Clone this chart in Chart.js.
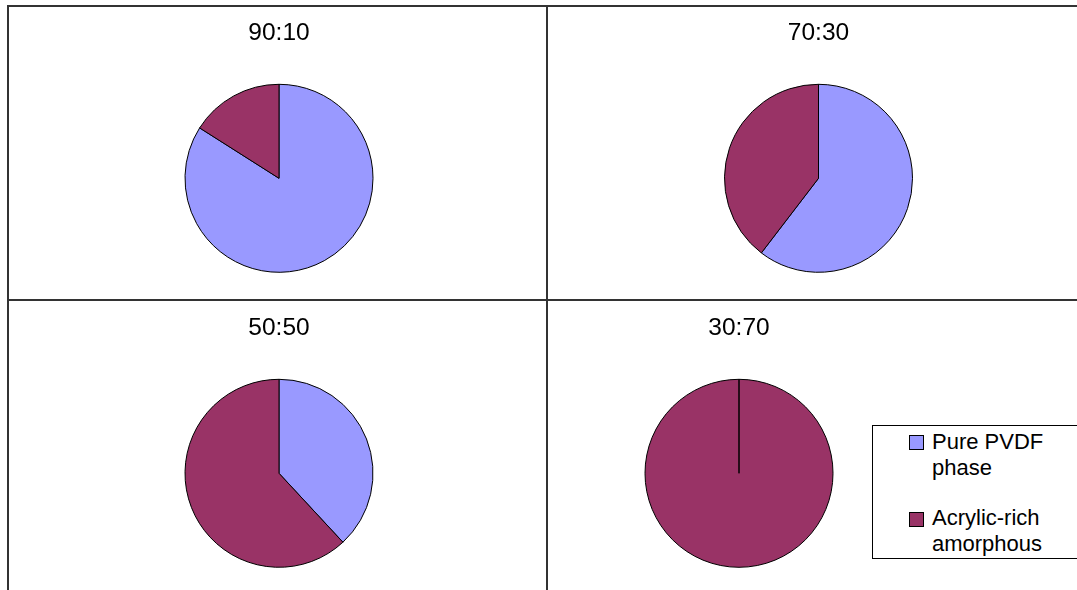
<!DOCTYPE html>
<html>
<head>
<meta charset="utf-8">
<script src="https://cdn.jsdelivr.net/npm/chart.js@4/dist/chart.umd.min.js"></script>
<style>
  html, body { margin: 0; padding: 0; background: #fff; }
  body { width: 1077px; height: 590px; position: relative; overflow: hidden; font-family: "Liberation Sans", Arial, sans-serif; }
  .line { position: absolute; background: #333; }
  .cell { position: absolute; }
  .legend { position: absolute; left: 872px; top: 425px; width: 215px; height: 132px; border: 1px solid #000; background: #fff; font-size: 22px; color: #000; }
  .item { position: absolute; left: 59px; line-height: 26px; white-space: nowrap; }
  .mk { position: absolute; left: 36px; width: 13px; height: 13px; border: 1px solid #000; }
</style>
</head>
<body>
<div class="line" style="left:7px; top:5px; width:1100px; height:2px;"></div>
<div class="line" style="left:7px; top:5px; width:2px; height:600px;"></div>
<div class="line" style="left:546px; top:5px; width:2px; height:600px;"></div>
<div class="line" style="left:7px; top:299px; width:1100px; height:2px;"></div>

<div class="cell" style="left:9px; top:7px; width:537px; height:292px;"><canvas id="c0"></canvas></div>
<div class="cell" style="left:548px; top:7px; width:541px; height:292px;"><canvas id="c1"></canvas></div>
<div class="cell" style="left:9px; top:301px; width:537px; height:289px;"><canvas id="c2"></canvas></div>
<div class="cell" style="left:548px; top:301px; width:541px; height:289px;"><canvas id="c3"></canvas></div>

<div class="legend" id="legend"></div>

<script>
// ---- Data ----
const seriesLabels = ["Pure PVDF phase", "Acrylic-rich amorphous"];
const legendLines = [["Pure PVDF", "phase"], ["Acrylic-rich", "amorphous"]];
const chartTitles = ["90:10", "70:30", "50:50", "30:70"];
const purePVDF = [84, 60.4, 38.1, 0];
const acrylicRich = [16, 39.6, 61.9, 100];
const colors = ["#9999FF", "#993366"];

// ---- Layout per cell ----
const cellLayouts = [
  { titlePad: { top: 11.2, bottom: 10.0 }, padding: { left: 3, right: 0, top: 0, bottom: 0 } },
  { titlePad: { top: 11.2, bottom: 10.0 }, padding: { left: 0, right: 0, top: 0, bottom: 0 } },
  { titlePad: { top: 12.2, bottom: 14.0 }, padding: { left: 3, right: 0, top: 0, bottom: 0 } },
  { titlePad: { top: 12.2, bottom: 14.0 }, padding: { left: 0, right: 159, top: 0, bottom: 0 } }
];

chartTitles.forEach((t, i) => {
  new Chart(document.getElementById("c" + i), {
    type: "pie",
    data: {
      labels: seriesLabels,
      datasets: [{
        data: [purePVDF[i], acrylicRich[i]],
        backgroundColor: colors,
        borderColor: "#000",
        borderWidth: 1,
        radius: 94
      }]
    },
    options: {
      responsive: true,
      maintainAspectRatio: false,
      animation: false,
      layout: { padding: cellLayouts[i].padding },
      plugins: {
        legend: { display: false },
        tooltip: { enabled: false },
        title: {
          display: true,
          text: t,
          color: "#000",
          font: { family: "'Liberation Sans', Arial, sans-serif", size: 24.5, weight: "normal", lineHeight: 1.2 },
          padding: cellLayouts[i].titlePad
        }
      }
    }
  });
});

// ---- HTML legend ----
const lg = document.getElementById("legend");
const itemTops = [3, 79];
const markerTops = [9, 86];
seriesLabels.forEach((s, k) => {
  const mk = document.createElement("div");
  mk.className = "mk";
  mk.style.top = markerTops[k] + "px";
  mk.style.background = colors[k];
  lg.appendChild(mk);
  const it = document.createElement("div");
  it.className = "item";
  it.style.top = itemTops[k] + "px";
  it.innerHTML = legendLines[k].join("<br>");
  lg.appendChild(it);
});
</script>
</body>
</html>
